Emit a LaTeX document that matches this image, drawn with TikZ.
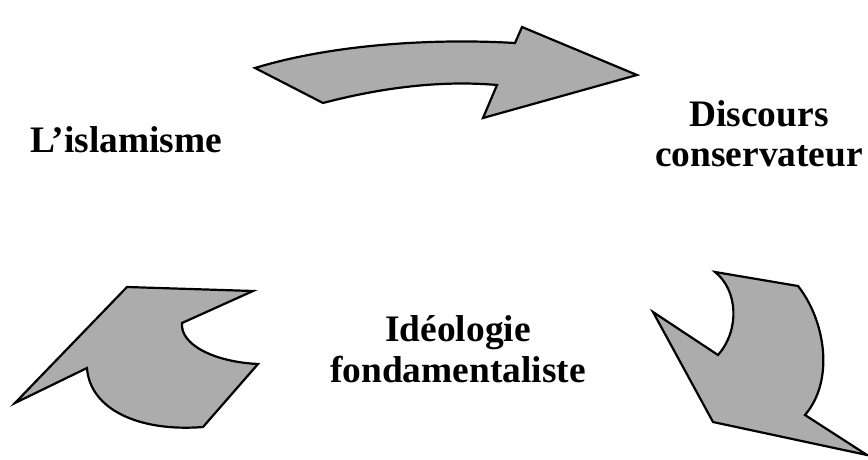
\documentclass[tikz,border=0pt]{standalone}
\usepackage{fontspec}
\setmainfont{Liberation Serif}
\usetikzlibrary{positioning}
\definecolor{cycInk}{RGB}{0,0,0}
\definecolor{cycFill}{RGB}{172,172,172}
\tikzset{
  % the three block arrows of the cycle
  bentarrow/.style={draw=cycInk, fill=cycFill, line width=1.1pt, line join=miter},
  % the three words of the cycle
  word/.style={font=\bfseries\fontsize{18.7}{20.5}\selectfont, text=cycInk,
               align=center, inner sep=0pt},
}
\begin{document}
\begin{tikzpicture}[x=0.5pt, y=-0.5pt]
\useasboundingbox (0,0) rectangle (868,460);

% ============================== words ======================================
\node[word, anchor=base] (islam) at (126,153) {L’islamisme};
\node[word, anchor=base] (disc)  at (759,167) {Discours\\conservateur};
\node[word, anchor=base] (ideo)  at (458,382) {Idéologie\\fondamentaliste};

% ============================== arrows =====================================
% top: from the left towards Discours
\draw[bentarrow] (255,68) .. controls (330,45) and (430,38) .. (515,43)
      -- (522,27) -- (637,75) -- (483,118) -- (497,85)
      .. controls (440,80) and (380,88) .. (323,103) -- cycle;

% bottom right: turning down
\draw[bentarrow] (715,272) -- (798,286)
      .. controls (825,320) and (835,380) .. (805,415)
      -- (867,455) -- (713,422) -- (653,312) -- (718,355)
      .. controls (740,330) and (738,290) .. (715,272) -- cycle;

% bottom left: pointing back up
\draw[bentarrow] (127,287) -- (253,291) -- (182,323)
      .. controls (180,345) and (215,362) .. (258,364)
      -- (203,427) .. controls (140,432) and (90,410) .. (87,368)
      -- (15,403) -- cycle;

\end{tikzpicture}
\end{document}
